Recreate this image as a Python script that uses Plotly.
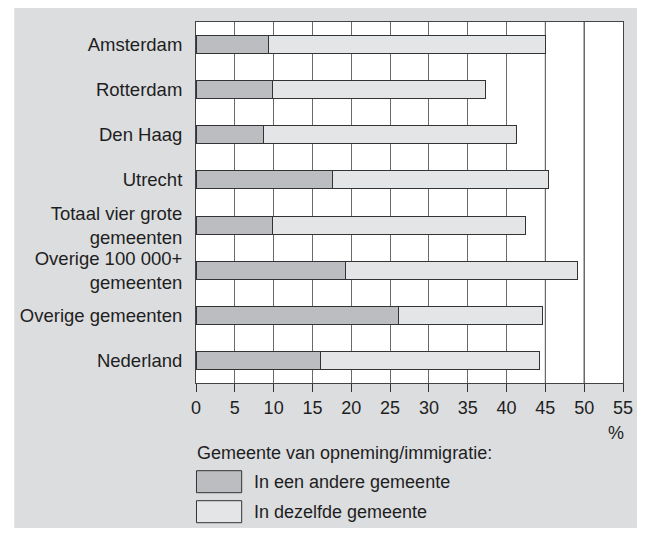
import plotly.graph_objects as go

categories = [
    "Amsterdam",
    "Rotterdam",
    "Den Haag",
    "Utrecht",
    "Totaal vier grote<br>gemeenten",
    "Overige 100 000+<br>gemeenten",
    "Overige gemeenten",
    "Nederland",
]
andere_gemeente = [9.3, 9.8, 8.7, 17.6, 9.9, 19.3, 26.1, 16.1]
dezelfde_gemeente = [35.7, 27.5, 32.6, 27.8, 32.5, 29.9, 18.5, 28.2]
series_names = ["In een andere gemeente", "In dezelfde gemeente"]
x_ticks = [0, 5, 10, 15, 20, 25, 30, 35, 40, 45, 50, 55]
dark_gridlines = [45, 50]
legend_title = "Gemeente van opneming/immigratie:"
unit_label = "%"

FONT = "Liberation Sans, Arial, Helvetica, sans-serif"
TXT = "#1e1e1e"
BG = "#dcdddf"
C_DARK = "#bcbdc0"
C_LIGHT = "#e4e5e7"
OUTLINE = "#333333"

fig = go.Figure()
fig.add_trace(go.Bar(y=categories, x=andere_gemeente, orientation="h", name=series_names[0],
                     marker=dict(color=C_DARK, line=dict(color=OUTLINE, width=1)), showlegend=False))
fig.add_trace(go.Bar(y=categories, x=dezelfde_gemeente, orientation="h", name=series_names[1],
                     marker=dict(color=C_LIGHT, line=dict(color=OUTLINE, width=1)), showlegend=False))

# page body has an 8px margin: figure origin sits at (8, 8) of the window
OFF = 8
W, H = 645 - OFF, 534 - OFF
L, T = 195 - OFF, 22 - OFF
R = W - (625 - OFF)
B = H - (383 - OFF)
pw, ph = W - L - R, H - T - B


def px_x(px):
    return (px - OFF - L) / pw


def px_y(py):
    return (H - B - (py - OFF)) / ph


shapes = [
    dict(type="rect", xref="paper", yref="paper", x0=px_x(12), x1=px_x(640), y0=px_y(528), y1=px_y(8),
         fillcolor=BG, line=dict(width=0), layer="below"),
    dict(type="rect", xref="paper", yref="paper", x0=0, x1=1, y0=0, y1=1,
         fillcolor="white", line=dict(width=0), layer="below"),
]
for g in dark_gridlines:
    shapes.append(dict(type="line", xref="x", yref="paper", x0=g, x1=g, y0=0, y1=1,
                       line=dict(color="#1a1a1a", width=1), layer="between"))

# legend boxes
for i, col in enumerate([C_DARK, C_LIGHT]):
    top = 470.7 + i * 30
    shapes.append(dict(type="rect", xref="paper", yref="paper", x0=px_x(195.5), x1=px_x(241),
                       y0=px_y(top + 22), y1=px_y(top), fillcolor=col,
                       line=dict(color=OUTLINE, width=1)))

annotations = [
    dict(text=legend_title, xref="paper", yref="paper", x=px_x(194), y=px_y(453),
         xanchor="left", yanchor="middle", showarrow=False, font=dict(size=18, color=TXT, family=FONT)),
    dict(text=unit_label, xref="paper", yref="paper", x=px_x(618), y=px_y(433),
         xanchor="center", yanchor="middle", showarrow=False, font=dict(size=18, color=TXT, family=FONT)),
]
for i, nm in enumerate(series_names):
    annotations.append(dict(text=nm, xref="paper", yref="paper", x=px_x(251), y=px_y(482 + i * 30),
                            xanchor="left", yanchor="middle", showarrow=False,
                            font=dict(size=18, color=TXT, family=FONT)))

fig.update_layout(
    width=W, height=H,
    margin=dict(l=L, r=R, t=T, b=B, pad=0),
    barmode="stack", bargap=0.6,
    paper_bgcolor="white", plot_bgcolor="rgba(0,0,0,0)",
    font=dict(family=FONT, size=18, color=TXT),
    shapes=shapes, annotations=annotations,
    xaxis=dict(range=[0, 55], tickvals=x_ticks, ticktext=[str(v) for v in x_ticks],
               showgrid=True, gridcolor="#6a6a6a", gridwidth=1,
               showline=True, linecolor="#444444", linewidth=1, mirror=True,
               ticks="outside", ticklen=8, tickcolor="#333333", tickwidth=1,
               zeroline=False, tickfont=dict(size=18, color=TXT, family=FONT), fixedrange=True),
    yaxis=dict(autorange="reversed", showgrid=False, showline=True, linecolor="#444444",
               linewidth=1, mirror=True, ticks="", ticklabelstandoff=9,
               tickfont=dict(size=18.5, color=TXT, family=FONT), fixedrange=True),
)

fig.write_html("out.html")
